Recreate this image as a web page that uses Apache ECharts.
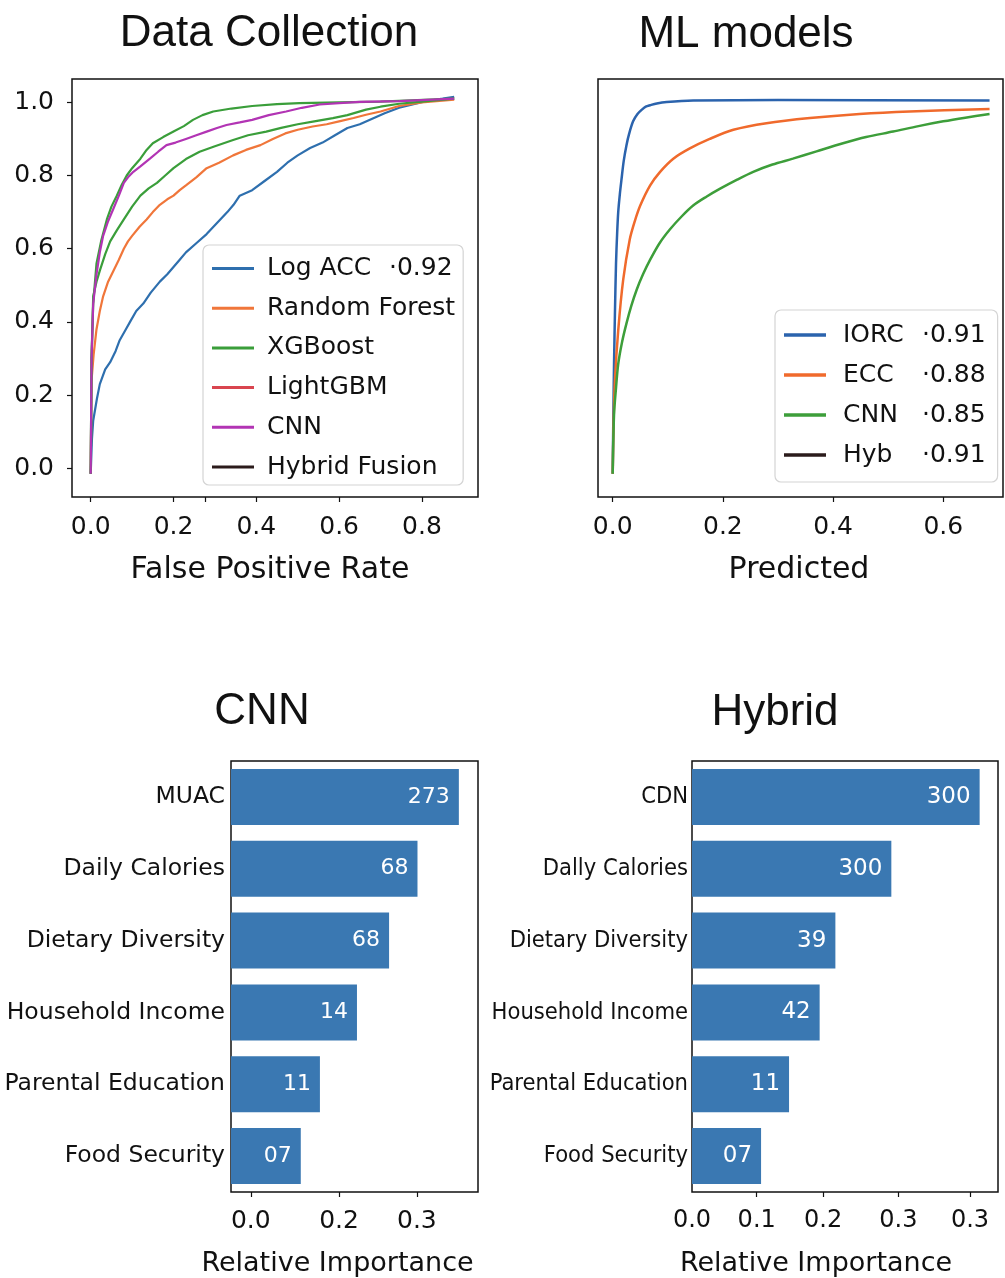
<!DOCTYPE html>
<html lang="en">
<head>
<meta charset="UTF-8">
<script src="https://cdn.jsdelivr.net/npm/echarts@6.0.0/dist/echarts.min.js"></script>
<style>
    html, body { margin: 0; padding: 0; background: #fff; }
    #chart { width: 1005px; height: 1278px; }
</style>
</head>
<body>
<div id="chart"></div>
<script>
    // ---------- top left: ROC curves ----------
    var rocNames = ['Log ACC', 'Random Forest', 'XGBoost', 'LightGBM', 'CNN', 'Hybrid Fusion'];
    var rocScores = ['0.92', '', '', '', '', ''];
    var rocColors = ['#2e6fae', '#f0763a', '#3a9e3a', '#d9454f', '#b234b4', '#2b1b1b'];
    var rocTickValues = [0, 0.2, 0.276, 0.4, 0.6, 0.8];
    var rocTickLabels = [0, 0.2, 0.4, 0.6, 0.8];
    var rocYTicks = [0, 0.2, 0.4, 0.6, 0.8, 1.0];

    var rocLogAcc = [[0,-0.015],[0.003,0.08],[0.006,0.13],[0.015,0.19],[0.022,0.23],[0.035,0.27],[0.047,0.29],[0.06,0.32],
        [0.07,0.35],[0.085,0.38],[0.095,0.40],[0.11,0.43],[0.127,0.45],[0.145,0.48],[0.167,0.51],[0.185,0.53],[0.2,0.55],
        [0.215,0.57],[0.23,0.59],[0.255,0.615],[0.28,0.64],[0.305,0.67],[0.33,0.70],[0.345,0.72],[0.36,0.745],[0.39,0.76],
        [0.42,0.785],[0.45,0.81],[0.475,0.835],[0.5,0.855],[0.53,0.875],[0.56,0.89],[0.59,0.91],[0.62,0.93],[0.65,0.94],
        [0.68,0.955],[0.71,0.97],[0.745,0.985],[0.78,0.995],[0.81,1.003],[0.85,1.01],[0.878,1.015]];
    var rocForest = [[0,-0.015],[0.001,0.12],[0.002,0.24],[0.007,0.31],[0.014,0.38],[0.022,0.43],[0.03,0.47],[0.042,0.51],
        [0.055,0.54],[0.068,0.57],[0.08,0.6],[0.09,0.62],[0.10,0.635],[0.118,0.66],[0.135,0.68],[0.15,0.70],[0.167,0.72],
        [0.185,0.735],[0.2,0.745],[0.215,0.76],[0.23,0.773],[0.255,0.795],[0.28,0.82],[0.31,0.835],[0.344,0.855],[0.375,0.87],
        [0.41,0.883],[0.44,0.9],[0.47,0.915],[0.5,0.925],[0.536,0.934],[0.57,0.94],[0.6,0.948],[0.635,0.957],[0.665,0.966],
        [0.7,0.975],[0.745,0.99],[0.8,1.0],[0.878,1.007]];
    var rocXgbLow = [[0,-0.015],[0.002,0.3],[0.006,0.47],[0.014,0.51],[0.022,0.54],[0.035,0.585],[0.047,0.62],[0.063,0.65],
        [0.08,0.68],[0.1,0.715],[0.12,0.745],[0.14,0.765],[0.16,0.78],[0.18,0.8],[0.2,0.82],[0.23,0.845],[0.263,0.865],
        [0.3,0.88],[0.344,0.897],[0.38,0.91],[0.424,0.92],[0.46,0.93],[0.5,0.94],[0.54,0.948],[0.585,0.957],[0.62,0.965],
        [0.665,0.98],[0.7,0.988],[0.745,0.996],[0.8,1.002],[0.878,1.01]];
    var rocCnn = [[0,-0.015],[0.002,0.3],[0.006,0.45],[0.014,0.53],[0.022,0.59],[0.03,0.635],[0.042,0.675],[0.055,0.71],
        [0.068,0.745],[0.08,0.78],[0.09,0.795],[0.103,0.81],[0.12,0.825],[0.143,0.846],[0.163,0.865],[0.183,0.883],
        [0.205,0.89],[0.23,0.9],[0.255,0.91],[0.28,0.92],[0.305,0.93],[0.328,0.938],[0.36,0.945],[0.39,0.952],[0.43,0.965],
        [0.472,0.975],[0.51,0.985],[0.553,0.994],[0.6,0.998],[0.65,1.001],[0.745,1.003],[0.878,1.01]];
    var rocXgbHigh = [[0,-0.015],[0.002,0.3],[0.006,0.45],[0.014,0.56],[0.025,0.62],[0.039,0.68],[0.05,0.715],[0.063,0.745],
        [0.075,0.775],[0.087,0.8],[0.1,0.82],[0.12,0.846],[0.135,0.87],[0.15,0.888],[0.175,0.905],[0.2,0.92],[0.225,0.935],
        [0.247,0.952],[0.27,0.965],[0.296,0.975],[0.34,0.983],[0.39,0.99],[0.45,0.995],[0.504,0.998],[0.6,1.0],[0.7,1.002],
        [0.878,1.01]];

    // ---------- top right: ML models ----------
    var mlNames = ['IORC', 'ECC', 'CNN', 'Hyb'];
    var mlScores = ['0.91', '0.88', '0.85', '0.91'];
    var mlColors = ['#2b63ad', '#f06a2c', '#3d9e3a', '#2b1b1b'];
    var mlTicks = [0, 0.2, 0.4, 0.6];
    var mlIorc = [[0,-0.015],[0.0012,0.15],[0.0024,0.285],[0.004,0.42],[0.006,0.56],[0.008,0.64],[0.010,0.70],[0.013,0.75],
        [0.016,0.79],[0.02,0.84],[0.025,0.883],[0.03,0.915],[0.037,0.948],[0.045,0.968],[0.053,0.98],[0.06,0.988],
        [0.068,0.992],[0.08,0.997],[0.098,1.001],[0.146,1.005],[0.3,1.006],[0.684,1.005]];
    var mlEcc = [[0,-0.015],[0.0015,0.12],[0.004,0.24],[0.01,0.377],[0.019,0.515],[0.031,0.626],[0.04,0.675],[0.05,0.718],
        [0.068,0.773],[0.086,0.81],[0.11,0.846],[0.14,0.874],[0.176,0.9],[0.219,0.925],[0.279,0.943],[0.358,0.957],
        [0.448,0.968],[0.539,0.975],[0.684,0.982]];
    var mlCnn = [[0,-0.015],[0.0024,0.147],[0.006,0.22],[0.01,0.285],[0.017,0.345],[0.025,0.396],[0.034,0.445],[0.0435,0.488],
        [0.055,0.53],[0.068,0.57],[0.085,0.615],[0.104,0.653],[0.125,0.688],[0.146,0.718],[0.17,0.742],[0.195,0.764],
        [0.225,0.788],[0.255,0.81],[0.29,0.83],[0.327,0.846],[0.37,0.866],[0.418,0.888],[0.46,0.905],[0.509,0.92],
        [0.555,0.935],[0.6,0.948],[0.64,0.958],[0.684,0.968]];

    // ---------- bottom: feature importance ----------
    var cnnFeatures = ['MUAC', 'Daily Calories', 'Dietary Diversity', 'Household Income', 'Parental Education', 'Food Security'];
    var cnnImportance = [0.369, 0.302, 0.256, 0.204, 0.144, 0.113];
    var cnnBarText = ['273', '68', '68', '14', '11', '07'];
    var cnnTickValues = [0.032, 0.175, 0.301];
    var cnnTickLabels = ['0.0', '0.2', '0.3'];

    var hybFeatures = ['CDN', 'Dally Calories', 'Dietary Diversity', 'Household Income', 'Parental Education', 'Food Security'];
    var hybImportance = [0.329, 0.228, 0.164, 0.146, 0.111, 0.079];
    var hybBarText = ['300', '300', '39', '42', '11', '07'];
    var hybTickValues = [0, 0.074, 0.150, 0.236, 0.318];
    var hybTickLabels = ['0.0', '0.1', '0.2', '0.3', '0.3'];

    var barColor = '#3a78b2';
    var ink = '#111';
    var font = 'DejaVu Sans';

    function nearestLabel(values, labels, v) {
        var best = 0;
        for (var i = 1; i < values.length; i++) {
            if (Math.abs(values[i] - v) < Math.abs(values[best] - v)) best = i;
        }
        return labels[best];
    }

    function lineSeries(name, data, color, grid, width, smooth) {
        return {
            name: name, type: 'line', xAxisIndex: grid, yAxisIndex: grid, data: data,
            showSymbol: false, symbol: 'none', smooth: smooth, silent: true,
            lineStyle: { color: color, width: width }, itemStyle: { color: color }
        };
    }

    function legendItems(names, colors) {
        return names.map(function (n, i) {
            return { name: n, itemStyle: { color: colors[i] } };
        });
    }

    function legendFormatter(names, scores) {
        return function (name) {
            var s = scores[names.indexOf(name)];
            return s ? '{n|' + name + '}{s|·' + s + '}' : '{t|' + name + '}';
        };
    }

    var tick = { show: true, length: 5, lineStyle: { color: ink, width: 1.2 } };
    var noLine = { show: false, onZero: false };
    var gridBox = { show: true, borderColor: ink, borderWidth: 1.5, backgroundColor: 'transparent', outerBoundsMode: 'none', containLabel: false };

    var series = [
        lineSeries('Log ACC', rocLogAcc, rocColors[0], 0, 2.2, false),
        lineSeries('Random Forest', rocForest, rocColors[1], 0, 2.2, false),
        lineSeries('XGBoost', rocXgbLow, rocColors[2], 0, 2.2, false),
        lineSeries('LightGBM', [], rocColors[3], 0, 2.2, false),
        lineSeries('XGBoost', rocXgbHigh, rocColors[2], 0, 2.2, false),
        lineSeries('CNN', rocCnn, rocColors[4], 0, 2.2, false),
        lineSeries('Hybrid Fusion', [], rocColors[5], 0, 2.2, false),
        lineSeries('IORC', mlIorc, mlColors[0], 1, 2.5, 0.3),
        lineSeries('ECC', mlEcc, mlColors[1], 1, 2.5, 0.3),
        lineSeries('CNN', mlCnn, mlColors[2], 1, 2.5, 0.3),
        lineSeries('Hyb', [], mlColors[3], 1, 2.5, 0.3),
        {
            type: 'bar', xAxisIndex: 2, yAxisIndex: 2, data: cnnImportance, barCategoryGap: '22%', silent: true,
            itemStyle: { color: barColor },
            label: {
                show: true, position: 'insideRight', distance: 9, color: '#fff', fontSize: 22, fontFamily: font,
                formatter: function (p) { return cnnBarText[p.dataIndex]; }
            }
        },
        {
            type: 'bar', xAxisIndex: 3, yAxisIndex: 3, data: hybImportance, barCategoryGap: '22%', silent: true,
            itemStyle: { color: barColor },
            label: {
                show: true, position: 'insideRight', distance: 9, color: '#fff', fontSize: 23, fontFamily: font,
                formatter: function (p) { return hybBarText[p.dataIndex]; }
            }
        }
    ];

    var option = {
        animation: false,
        backgroundColor: '#fff',
        grid: [
            Object.assign({ left: 72, top: 79, width: 406, height: 418 }, gridBox),
            Object.assign({ left: 598, top: 79, width: 405, height: 418 }, gridBox),
            Object.assign({ left: 231, top: 761, width: 247, height: 431 }, gridBox),
            Object.assign({ left: 692, top: 761, width: 306, height: 431 }, gridBox)
        ],
        xAxis: [
            {
                gridIndex: 0, type: 'value', min: -0.0452, max: 0.9355,
                axisLine: noLine, splitLine: { show: false },
                axisTick: Object.assign({ customValues: rocTickValues }, tick),
                axisLabel: {
                    customValues: rocTickLabels, margin: 18, color: ink, fontSize: 25, fontFamily: font,
                    formatter: function (v) { return v.toFixed(1); }
                },
                name: 'False Positive Rate', nameLocation: 'middle', nameGap: 58,
                nameTextStyle: { color: ink, fontSize: 30, fontFamily: font, padding: [0, 10, 0, 0] }
            },
            {
                gridIndex: 1, type: 'value', min: -0.0267, max: 0.7084,
                axisLine: noLine, splitLine: { show: false },
                axisTick: Object.assign({ customValues: mlTicks }, tick),
                axisLabel: {
                    customValues: mlTicks, margin: 18, color: ink, fontSize: 25, fontFamily: font,
                    formatter: function (v) { return v.toFixed(1); }
                },
                name: 'Predicted', nameLocation: 'middle', nameGap: 58,
                nameTextStyle: { color: ink, fontSize: 30, fontFamily: font, padding: [0, 3, 0, 0] }
            },
            {
                gridIndex: 2, type: 'value', min: 0, max: 0.4,
                axisLine: noLine, splitLine: { show: false },
                axisTick: Object.assign({ customValues: cnnTickValues }, tick),
                axisLabel: {
                    customValues: cnnTickValues, margin: 17, color: ink, fontSize: 25, fontFamily: font,
                    formatter: function (v) { return nearestLabel(cnnTickValues, cnnTickLabels, v); }
                },
                name: 'Relative Importance', nameLocation: 'middle', nameGap: 58,
                nameTextStyle: { color: ink, fontSize: 27, fontFamily: font, padding: [0, 34, 0, 0] }
            },
            {
                gridIndex: 3, type: 'value', min: 0, max: 0.35,
                axisLine: noLine, splitLine: { show: false },
                axisTick: Object.assign({ customValues: hybTickValues.slice(1) }, tick),
                axisLabel: {
                    customValues: hybTickValues, margin: 17, color: ink, fontSize: 24, fontFamily: font,
                    formatter: function (v) { return nearestLabel(hybTickValues, hybTickLabels, v); }
                },
                name: 'Relative Importance', nameLocation: 'middle', nameGap: 58,
                nameTextStyle: { color: ink, fontSize: 27, fontFamily: font, padding: [0, 58, 0, 0] }
            }
        ],
        yAxis: [
            {
                gridIndex: 0, type: 'value', min: -0.0784, max: 1.0637,
                axisLine: noLine, splitLine: { show: false },
                axisTick: Object.assign({ customValues: rocYTicks }, tick),
                axisLabel: {
                    customValues: rocYTicks, margin: 18, color: ink, fontSize: 25, fontFamily: font,
                    formatter: function (v) { return v.toFixed(1); }
                }
            },
            {
                gridIndex: 1, type: 'value', min: -0.0784, max: 1.0637,
                axisLine: noLine, splitLine: { show: false },
                axisTick: { show: false }, axisLabel: { show: false }
            },
            {
                gridIndex: 2, type: 'category', inverse: true, data: cnnFeatures,
                axisLine: noLine, axisTick: { show: false }, splitLine: { show: false },
                axisLabel: { margin: 6, color: ink, fontSize: 23.5, fontFamily: font }
            },
            {
                gridIndex: 3, type: 'category', inverse: true, data: hybFeatures,
                axisLine: noLine, axisTick: { show: false }, splitLine: { show: false },
                axisLabel: { margin: 4, color: ink, fontSize: 23.5, fontFamily: 'DejaVu Sans Condensed, DejaVu Sans' }
            }
        ],
        legend: [
            {
                data: legendItems(rocNames, rocColors), orient: 'vertical', left: 203, top: 245,
                icon: 'rect', itemWidth: 42, itemHeight: 3, itemGap: 9.7, padding: [8.5, 8, 3, 9],
                backgroundColor: 'rgba(255,255,255,0.85)', borderColor: '#d4d4d4', borderWidth: 1.2, borderRadius: 6,
                selectedMode: false,
                formatter: legendFormatter(rocNames, rocScores),
                textStyle: {
                    color: ink, fontSize: 25, fontFamily: font, lineHeight: 30,
                    rich: {
                        n: { width: 122, padding: [0, 0, 0, 8], fontSize: 25, fontFamily: font, color: ink, lineHeight: 30 },
                        s: { fontSize: 25, fontFamily: font, color: ink, lineHeight: 30 },
                        t: { padding: [0, 0, 0, 8], fontSize: 25, fontFamily: font, color: ink, lineHeight: 30 }
                    }
                }
            },
            {
                data: legendItems(mlNames, mlColors), orient: 'vertical', left: 775, top: 310,
                icon: 'rect', itemWidth: 42, itemHeight: 3.5, itemGap: 10, padding: [10, 12, 12, 9],
                backgroundColor: 'rgba(255,255,255,0.85)', borderColor: '#d4d4d4', borderWidth: 1.2, borderRadius: 6,
                selectedMode: false,
                formatter: legendFormatter(mlNames, mlScores),
                textStyle: {
                    color: ink, fontSize: 25, fontFamily: font, lineHeight: 30,
                    rich: {
                        n: { width: 79, padding: [0, 0, 0, 12], fontSize: 25, fontFamily: font, color: ink, lineHeight: 30 },
                        s: { fontSize: 25, fontFamily: font, color: ink, lineHeight: 30 },
                        t: { padding: [0, 0, 0, 12], fontSize: 25, fontFamily: font, color: ink, lineHeight: 30 }
                    }
                }
            }
        ],
        graphic: [
            { type: 'text', x: 269, y: 34, style: { text: 'Data Collection', fontSize: 44, fontFamily: 'Liberation Sans', fill: ink, align: 'center', verticalAlign: 'middle' } },
            { type: 'text', x: 746, y: 35, style: { text: 'ML models', fontSize: 44, fontFamily: 'Liberation Sans', fill: ink, align: 'center', verticalAlign: 'middle' } },
            { type: 'text', x: 262, y: 712, style: { text: 'CNN', fontSize: 44, fontFamily: 'Liberation Sans', fill: ink, align: 'center', verticalAlign: 'middle' } },
            { type: 'text', x: 775, y: 713, style: { text: 'Hybrid', fontSize: 44, fontFamily: 'Liberation Sans', fill: ink, align: 'center', verticalAlign: 'middle' } }
        ],
        series: series
    };

    var myChart = echarts.init(document.getElementById('chart'), null, { renderer: 'canvas' });
    myChart.setOption(option);
</script>
</body>
</html>
